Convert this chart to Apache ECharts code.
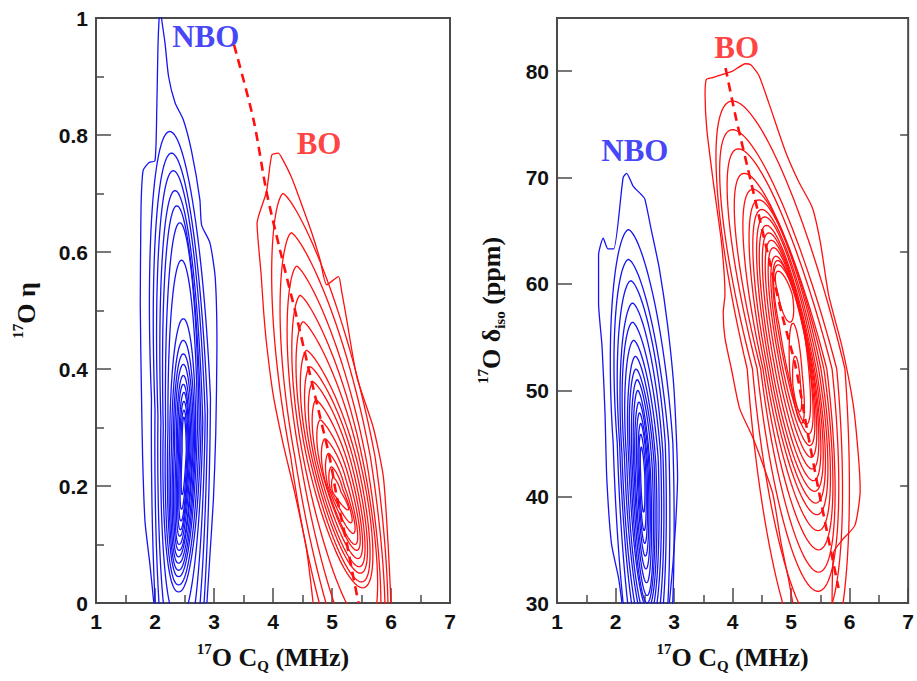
<!DOCTYPE html>
<html><head><meta charset="utf-8">
<script src="https://cdn.jsdelivr.net/npm/echarts@6/dist/echarts.min.js"></script>
<style>html,body{margin:0;padding:0;background:#fff}#c{width:917px;height:681px}</style>
</head><body><div id="c"></div>
<script>
// ---------------- DATA ----------------
const xTicks = [1, 2, 3, 4, 5, 6, 7];
const etaTicks = [0, 0.2, 0.4, 0.6, 0.8, 1];
const deltaTicks = [30, 40, 50, 60, 70, 80];

// Outermost contours (irregular, read point by point)  [CQ, eta]
const nboLeftOuter = [[1.98,0],[1.915,0.065],[1.83,0.14],[1.79,0.25],[1.77,0.363],[1.75,0.512],[1.76,0.65],[1.77,0.70],[1.80,0.74],[1.90,0.753],[2.0,0.756],[2.03,0.843],[2.05,0.95],[2.07,1.0],[2.09,1.02],[2.11,1.0],[2.17,0.957],[2.23,0.90],[2.34,0.855],[2.48,0.826],[2.62,0.772],[2.76,0.69],[2.79,0.646],[2.93,0.616],[3.02,0.557],[3.05,0.44],[3.03,0.29],[2.99,0.177],[2.93,0.08],[2.88,0]];
const boLeftOuter = [[4.68,0],[4.57,0.09],[4.37,0.188],[4.17,0.273],[4.0,0.358],[3.89,0.444],[3.84,0.50],[3.80,0.56],[3.73,0.649],[3.89,0.703],[3.98,0.766],[4.09,0.769],[4.17,0.757],[4.32,0.726],[4.49,0.68],[4.66,0.632],[4.80,0.586],[4.91,0.544],[5.11,0.558],[5.16,0.535],[5.25,0.484],[5.42,0.387],[5.70,0.30],[5.87,0.216],[5.95,0.102],[6.0,0]];
// [CQ, delta_iso]
const nboRightOuter = [[2.11,30],[2.05,32.4],[1.93,35.6],[1.85,41.8],[1.82,47.9],[1.77,54.1],[1.71,58.2],[1.71,62.7],[1.79,64.3],[1.87,63.3],[1.97,63.3],[2.13,70.0],[2.19,70.4],[2.30,69.2],[2.44,68.4],[2.5,68.0],[2.61,65.1],[2.75,61.4],[2.89,56.1],[3.0,50],[3.06,41.8],[3.03,37.7],[2.98,33.6],[2.92,30]];
const boRightOuter = [[5.03,30],[4.95,32.4],[4.83,35.6],[4.69,40.2],[4.52,43.0],[4.35,45.5],[4.12,48.3],[3.98,52.0],[3.87,54.9],[3.84,57.3],[3.87,59.0],[3.81,63.9],[3.67,69.6],[3.56,74.5],[3.53,77.8],[3.55,79.2],[3.66,79.4],[3.89,79.8],[4.0,80.0],[4.22,80.7],[4.31,80.6],[4.45,79.6],[4.62,77.0],[4.90,72.5],[5.13,69.6],[5.36,67.2],[5.50,63.9],[5.64,59.0],[5.87,54.1],[6.06,48.7],[6.15,43.8],[6.18,40.6],[6.09,37.3],[5.87,35.9],[5.73,34.8],[5.70,30]];

// Inner contour rings, each read as extreme points:
// [topX, topY, leftX, rightX, widestY, bottomX, bottomY]
const nboLeftRings = [
 [2.25,0.806,1.94,2.94,0.35,2.40,-0.25],
 [2.28,0.769,2.00,2.89,0.33,2.40,-0.18],
 [2.31,0.739,2.05,2.85,0.32,2.40,-0.10],
 [2.34,0.705,2.10,2.81,0.31,2.40,-0.03],
 [2.37,0.679,2.14,2.78,0.30,2.40,0.019],
 [2.42,0.650,2.18,2.75,0.30,2.40,0.031],
 [2.45,0.586,2.22,2.72,0.30,2.40,0.045],
 [2.48,0.486,2.25,2.69,0.28,2.40,0.056],
 [2.48,0.449,2.28,2.67,0.27,2.40,0.068],
 [2.48,0.426,2.31,2.65,0.27,2.40,0.079],
 [2.48,0.408,2.33,2.63,0.26,2.41,0.090],
 [2.48,0.389,2.36,2.61,0.26,2.41,0.100],
 [2.48,0.374,2.38,2.59,0.26,2.42,0.114],
 [2.49,0.360,2.40,2.57,0.26,2.43,0.125],
 [2.49,0.345,2.42,2.56,0.26,2.44,0.140],
 [2.49,0.330,2.44,2.545,0.26,2.45,0.160],
 [2.49,0.318,2.46,2.53,0.26,2.46,0.185]
];
const boLeftRings = [
 [4.17,0.700,4.30,5.73,0.25,5.62,-0.18],
 [4.31,0.633,4.37,5.65,0.25,5.63,-0.15],
 [4.40,0.576,4.47,5.59,0.24,5.60,-0.10],
 [4.46,0.526,4.53,5.53,0.24,5.58,-0.04],
 [4.51,0.481,4.59,5.48,0.24,5.52,0.026],
 [4.57,0.432,4.64,5.43,0.24,5.50,0.036],
 [4.63,0.404,4.69,5.39,0.235,5.48,0.051],
 [4.68,0.378,4.74,5.35,0.23,5.46,0.062],
 [4.73,0.347,4.79,5.31,0.225,5.44,0.076],
 [4.80,0.313,4.84,5.27,0.22,5.42,0.090],
 [4.88,0.281,4.88,5.24,0.21,5.39,0.100],
 [4.94,0.256,4.93,5.21,0.20,5.36,0.119],
 [4.99,0.233,4.97,5.18,0.195,5.32,0.137],
 [5.02,0.215,5.01,5.15,0.19,5.27,0.159]
];
const nboRightRings = [
 [2.22,65.1,1.96,2.98,45,2.62,18],
 [2.22,62.3,2.03,2.91,45,2.60,21],
 [2.26,60.3,2.07,2.85,45,2.58,24],
 [2.29,58.2,2.11,2.81,44,2.57,26],
 [2.29,56.4,2.15,2.77,44,2.56,27.5],
 [2.31,54.7,2.19,2.73,43.5,2.55,28.5],
 [2.34,53.2,2.23,2.69,43,2.55,29.5],
 [2.35,52.0,2.26,2.66,43,2.54,30.0],
 [2.37,51.0,2.29,2.63,42.5,2.54,30.7],
 [2.38,50.0,2.32,2.60,42,2.53,31.9],
 [2.40,48.9,2.34,2.58,42,2.52,33.2],
 [2.41,47.9,2.37,2.56,42,2.51,34.4],
 [2.43,46.9,2.39,2.54,42,2.50,35.6],
 [2.43,45.9,2.41,2.52,42,2.49,36.8],
 [2.44,44.7,2.43,2.50,42,2.48,38.5]
];
const boRightRings = [
 [4.00,77.2,4.25,5.92,52,5.45,24],
 [4.00,74.5,4.34,5.78,52,5.45,28],
 [4.10,72.7,4.42,5.70,52,5.46,31.1],
 [4.20,70.4,4.48,5.61,52,5.47,32.9],
 [4.35,68.9,4.52,5.56,52,5.47,35.0],
 [4.45,67.9,4.56,5.51,52,5.46,36.8],
 [4.50,67.0,4.60,5.47,52,5.44,38.3],
 [4.55,66.3,4.64,5.43,52,5.42,39.4],
 [4.58,65.5,4.68,5.40,52,5.40,40.5],
 [4.62,64.8,4.71,5.36,52.5,5.38,41.5],
 [4.66,64.1,4.74,5.33,53,5.36,42.6],
 [4.70,63.4,4.77,5.30,53.5,5.34,43.7],
 [4.74,62.6,4.79,5.27,54,5.32,44.8],
 [4.77,62.2,4.80,5.24,55,5.30,45.9],
 [4.78,61.8,4.80,5.21,56,5.26,46.8],
 [4.78,61.2,4.78,5.02,59,4.98,56.4],
 [5.03,56.3,4.98,5.19,51.5,5.18,46.9],
 [5.07,53.2,5.03,5.16,50.5,5.15,48.0]
];

// Dashed guide lines
const dashLeft = [[3.34,0.954],[3.67,0.826],[3.89,0.703],[4.12,0.603],[4.40,0.489],[4.57,0.415],[4.77,0.33],[4.97,0.244],[5.08,0.182],[5.25,0.102],[5.36,0.045],[5.45,0]];
const dashRight = [[3.88,80.3],[4.05,75.8],[4.25,71.1],[4.45,66.4],[4.65,61.7],[4.85,57.0],[5.07,52.4],[5.24,47.3],[5.41,42.3],[5.58,37.6],[5.81,31.4]];

// Text labels [text, CQ, y]
const labelsLeft = [['NBO', 2.86, 0.969], ['BO', 4.78, 0.785]];
const labelsRight = [['BO', 4.07, 82.2], ['NBO', 2.33, 72.5]];

// ---------------- DRAWING ----------------
const BLUE = '#1414f5', RED = '#ff1010';
function ringOutline(r, pTop, pBot) {
  const [xT, yT, xL, xR, yC, xB, yB] = r;
  const cx = (xL + xR) / 2, wL = cx - xL, wR = xR - cx;
  const pts = [];
  const n = 120;
  for (let i = 0; i <= n; i++) {
    const t = 2 * Math.PI * i / n;
    const c = Math.cos(t), s = Math.sin(t);
    const w = c >= 0 ? wR : wL;
    let x, y;
    if (s >= 0) {
      y = yC + (yT - yC) * s;
      x = cx + (xT - cx) * s + w * Math.sign(c) * Math.pow(Math.abs(c), pTop);
    } else {
      y = yC + (yC - yB) * s;
      x = cx + (xB - cx) * (-s) + w * Math.sign(c) * Math.pow(Math.abs(c), pBot);
    }
    pts.push([x, y]);
  }
  return pts;
}
const series = [];
function addLine(data, gi, color, width, extra) {
  series.push(Object.assign({
    type: 'line', xAxisIndex: gi, yAxisIndex: gi, data: data,
    showSymbol: false, symbol: 'none', silent: true, animation: false, clip: true,
    lineStyle: { color: color, width: width }
  }, extra || {}));
}
addLine(nboLeftOuter, 0, BLUE, 1.3, { smooth: 0.2 });
nboLeftRings.forEach(r => addLine(ringOutline(r, 1.0, 0.9), 0, BLUE, 1.3));
addLine(boLeftOuter, 0, RED, 1.3, { smooth: 0.2 });
boLeftRings.forEach(r => addLine(ringOutline(r, 1.4, 1.0), 0, RED, 1.3));
addLine(nboRightOuter, 1, BLUE, 1.3, { smooth: 0.2 });
nboRightRings.forEach(r => addLine(ringOutline(r, 1.2, 1.0), 1, BLUE, 1.3));
addLine(boRightOuter, 1, RED, 1.3, { smooth: 0.2 });
boRightRings.forEach(r => addLine(ringOutline(r, 1.0, 1.0), 1, RED, 1.3));
addLine(dashLeft, 0, RED, 2.6, { smooth: 0.3, lineStyle: { color: RED, width: 2.6, type: [9, 6] } });
addLine(dashRight, 1, RED, 2.6, { smooth: 0.3, lineStyle: { color: RED, width: 2.6, type: [9, 6] } });

function addLabels(list, gi) {
  list.forEach(([txt, x, y]) => {
    series.push({
      type: 'scatter', xAxisIndex: gi, yAxisIndex: gi, symbolSize: 0, silent: true, animation: false,
      data: [[x, y]],
      label: { show: true, position: 'inside', formatter: txt, color: txt === 'NBO' ? BLUE : RED,
        fontFamily: 'Liberation Serif', fontWeight: 'bold', fontSize: 31 }
    });
  });
}
addLabels(labelsLeft, 0);
addLabels(labelsRight, 1);

const AX = '#4a4a4a';
const tickFont = { fontFamily: 'Liberation Sans', fontWeight: 'bold', fontSize: 21, color: '#111' };
const titleRich = {
  main: { fontFamily: 'Liberation Serif', fontWeight: 'bold', fontSize: 26, color: '#111', lineHeight: 32 },
  sup: { fontFamily: 'Liberation Serif', fontWeight: 'bold', fontSize: 15, color: '#111', lineHeight: 18, verticalAlign: 'top' },
  sub: { fontFamily: 'Liberation Serif', fontWeight: 'bold', fontSize: 15, color: '#111', lineHeight: 16, verticalAlign: 'bottom' }
};
function xAxis(gi) {
  return {
    type: 'value', gridIndex: gi, min: xTicks[0], max: xTicks[xTicks.length - 1], interval: 1,
    name: '{sup|17}{main|O C}{sub|Q}{main| (MHz)}', nameLocation: 'middle', nameGap: 38,
    nameTextStyle: { rich: titleRich },
    axisLine: { show: true, lineStyle: { color: AX, width: 2 } },
    axisTick: { show: true, inside: true, length: 15, lineStyle: { color: AX, width: 1.5 } },
    minorTick: { show: true, splitNumber: 2, length: 8, lineStyle: { color: AX, width: 1.5 } },
    axisLabel: Object.assign({ margin: 8 }, tickFont),
    splitLine: { show: false }, minorSplitLine: { show: false }
  };
}
const option = {
  backgroundColor: '#ffffff',
  animation: false,
  grid: [
    { left: 96, top: 18, width: 354, height: 585, show: true, borderColor: AX, borderWidth: 2, backgroundColor: 'transparent' },
    { left: 557, top: 18, width: 353, height: 585, show: true, borderColor: AX, borderWidth: 2, backgroundColor: 'transparent' }
  ],
  xAxis: [xAxis(0), xAxis(1)],
  yAxis: [
    {
      type: 'value', gridIndex: 0, min: etaTicks[0], max: etaTicks[etaTicks.length - 1], interval: 0.2,
      name: '{sup|17}{main|O η}', nameLocation: 'middle', nameGap: 54, nameRotate: 90,
      nameTextStyle: { rich: titleRich },
      axisLine: { show: true, lineStyle: { color: AX, width: 2 } },
      axisTick: { show: true, inside: true, length: 15, lineStyle: { color: AX, width: 1.5 } },
      minorTick: { show: true, splitNumber: 2, length: 8, lineStyle: { color: AX, width: 1.5 } },
      axisLabel: Object.assign({ margin: 8, formatter: v => (v === 0 || v === 1) ? String(v) : v.toFixed(1) }, tickFont),
      splitLine: { show: false }
    },
    {
      type: 'value', gridIndex: 1, min: deltaTicks[0], max: 85, interval: 10,
      name: '{sup|17}{main|O δ}{sub|iso}{main| (ppm)}', nameLocation: 'middle', nameGap: 50, nameRotate: 90,
      nameTextStyle: { rich: titleRich },
      axisLine: { show: true, lineStyle: { color: AX, width: 2 } },
      axisTick: { show: true, inside: true, length: 15, lineStyle: { color: AX, width: 1.5 } },
      axisLabel: Object.assign({ margin: 8, showMaxLabel: false }, tickFont),
      splitLine: { show: false }
    },
    {
      type: 'value', gridIndex: 1, min: 35, max: 85, interval: 10,
      axisLine: { show: false },
      axisTick: { show: true, inside: true, length: 8, lineStyle: { color: AX, width: 1.5 } },
      axisLabel: { show: false }, splitLine: { show: false }
    }
  ],
  series: series
};
const chart = echarts.init(document.getElementById('c'), null, { renderer: 'svg' });
chart.setOption(option);
</script></body></html>
